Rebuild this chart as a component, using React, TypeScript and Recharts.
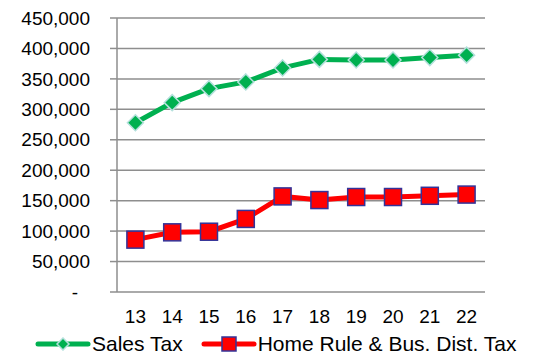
import { LineChart, Line, XAxis, YAxis, CartesianGrid, Legend } from "recharts";

const YEARS = ["13", "14", "15", "16", "17", "18", "19", "20", "21", "22"];
const SALES_TAX = [278000, 311000, 334000, 345000, 368000, 382000, 381000, 381000, 385000, 389000];
const HOME_RULE = [86000, 98000, 99000, 120000, 157000, 151000, 156000, 156000, 158000, 160000];
const Y_TICKS = [0, 50000, 100000, 150000, 200000, 250000, 300000, 350000, 400000, 450000];
const EDGE_TICKS = [0, 1, 2, 3, 4, 5, 6, 7, 8, 9, 10];

const GREEN = "#00B050";
const RED = "#FF0000";
const AXIS = "#8e8e8e";
const FONT = "'Liberation Sans', Arial, sans-serif";

const data = YEARS.map((year, i) => ({ year, sales: SALES_TAX[i], homeRule: HOME_RULE[i] }));

function Diamond({ cx, cy }: any) {
  if (cx == null || cy == null) return null;
  const r = 8;
  return (
    <polygon
      points={`${cx},${cy - r} ${cx + r},${cy} ${cx},${cy + r} ${cx - r},${cy}`}
      fill={GREEN}
      stroke="#b4e0dc"
      strokeWidth={1.5}
    />
  );
}

function Square({ cx, cy }: any) {
  if (cx == null || cy == null) return null;
  const s = 17;
  return <rect x={cx - s / 2} y={cy - s / 2} width={s} height={s} fill={RED} stroke="#333399" strokeWidth={1.5} />;
}

function YTick({ x, y, payload }: any) {
  const v = payload.value;
  const label = v === 0 ? "-" : v.toLocaleString("en-US");
  return (
    <text x={v === 0 ? x - 12 : x} y={y} dy="0.35em" textAnchor="end" fill="#000" fontSize={19} fontFamily={FONT}>
      {label}
    </text>
  );
}

function LegendBox() {
  return (
    <div
      style={{
        display: "flex",
        alignItems: "center",
        height: 30,
        whiteSpace: "nowrap",
        fontFamily: FONT,
        fontSize: 21,
        color: "#000",
      }}
    >
      <svg width={56} height={14} style={{ marginLeft: 35 }}>
        <line x1={3} y1={7} x2={53} y2={7} stroke={GREEN} strokeWidth={5} strokeLinecap="round" />
        <polygon points="28,1 34,7 28,13 22,7" fill={GREEN} stroke="#b4e0dc" strokeWidth={1.5} />
      </svg>
      <span style={{ marginLeft: 1 }}>Sales Tax</span>
      <svg width={56} height={16} style={{ marginLeft: 18 }}>
        <line x1={3} y1={8} x2={53} y2={8} stroke={RED} strokeWidth={5} strokeLinecap="round" />
        <rect x={21} y={1} width={14} height={14} fill={RED} stroke="#333399" strokeWidth={1.5} />
      </svg>
      <span style={{ marginLeft: 1 }}>Home Rule &amp; Bus. Dist. Tax</span>
    </div>
  );
}

export default function App() {
  return (
    <div style={{ position: "fixed", left: 0, top: 0, background: "#fff" }}>
      <LineChart width={541} height={356} data={data} margin={{ top: 18, right: 56, bottom: 4, left: 0 }}>
        <CartesianGrid xAxisId="cat" vertical={false} stroke={AXIS} strokeWidth={1.5} />
        <XAxis
          xAxisId="edge"
          type="number"
          domain={[0, 10]}
          ticks={EDGE_TICKS}
          tick={false}
          height={0}
          tickSize={6}
          axisLine={{ stroke: AXIS, strokeWidth: 1.5 }}
          tickLine={{ stroke: AXIS, strokeWidth: 1.5 }}
        />
        <XAxis
          xAxisId="cat"
          dataKey="year"
          height={30}
          padding={{ left: 18.4, right: 18.4 }}
          axisLine={false}
          tickLine={false}
          tickSize={0}
          tickMargin={18}
          interval={0}
          tick={{ fill: "#000", fontSize: 19, fontFamily: FONT }}
        />
        <YAxis
          domain={[0, 450000]}
          ticks={Y_TICKS}
          width={117}
          tickSize={7}
          tickMargin={20}
          tick={<YTick />}
          axisLine={{ stroke: AXIS, strokeWidth: 1.5 }}
          tickLine={{ stroke: AXIS, strokeWidth: 1.5 }}
          interval={0}
        />
        <Legend
          verticalAlign="bottom"
          content={<LegendBox />}
          height={30}
          wrapperStyle={{ left: 0, width: 541, bottom: -3 }}
        />
        <Line
          xAxisId="cat"
          dataKey="sales"
          stroke={GREEN}
          strokeWidth={5}
          dot={<Diamond />}
          isAnimationActive={false}
        />
        <Line
          xAxisId="cat"
          dataKey="homeRule"
          stroke={RED}
          strokeWidth={5}
          dot={<Square />}
          isAnimationActive={false}
        />
      </LineChart>
    </div>
  );
}
